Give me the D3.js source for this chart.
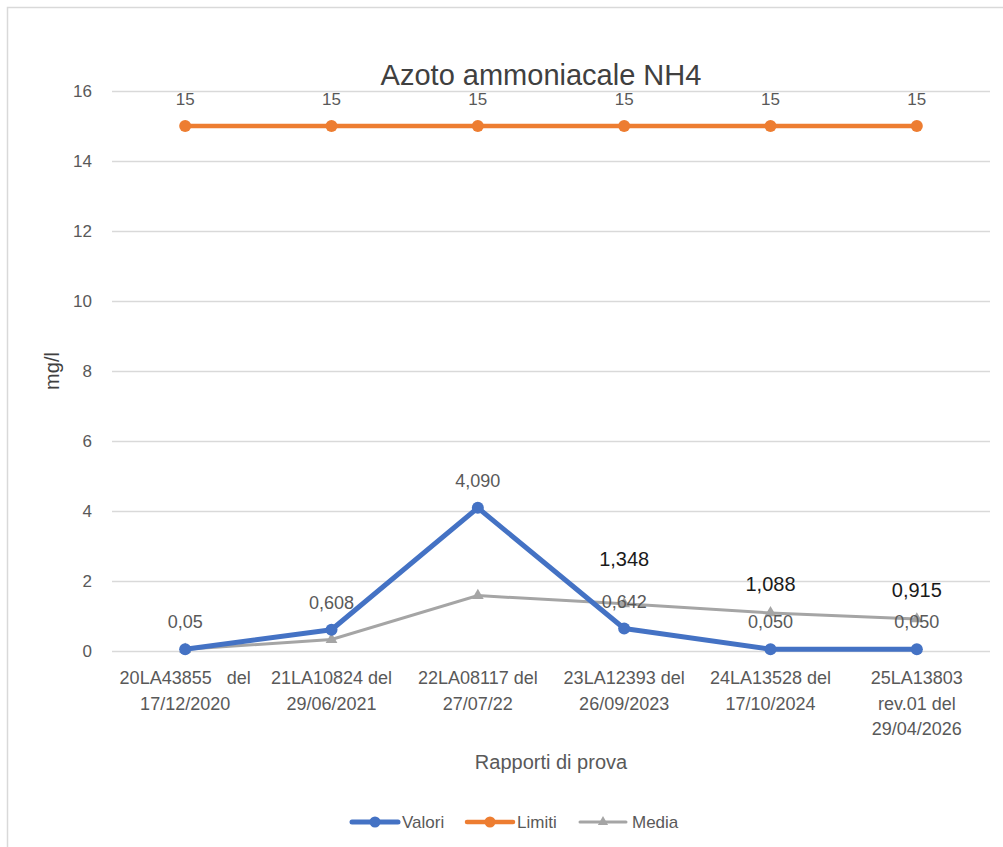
<!DOCTYPE html>
<html><head><meta charset="utf-8">
<script src="https://cdn.jsdelivr.net/npm/d3@7"></script>
<style>body{margin:0;background:#fff}svg{display:block}</style>
</head><body>
<script>
const categories = [
  ["20LA43855   del","17/12/2020"],
  ["21LA10824 del","29/06/2021"],
  ["22LA08117 del","27/07/22"],
  ["23LA12393 del","26/09/2023"],
  ["24LA13528 del","17/10/2024"],
  ["25LA13803","rev.01 del","29/04/2026"]
];
const valori = [0.05, 0.608, 4.09, 0.642, 0.05, 0.05];
const valoriLabels = ["0,05","0,608","4,090","0,642","0,050","0,050"];
const limiti = [15, 15, 15, 15, 15, 15];
const limitiLabels = ["15","15","15","15","15","15"];
const media = [0.05, 0.329, 1.583, 1.348, 1.088, 0.915];
const mediaLabels = [null, null, null, "1,348", "1,088", "0,915"];
const yTicks = [0, 2, 4, 6, 8, 10, 12, 14, 16];

const W = 1003, H = 847;
const font = "'Liberation Sans', Arial, sans-serif";
const svg = d3.select("body").append("svg").attr("width", W).attr("height", H)
  .style("font-family", font);

// outer frame
svg.append("rect").attr("x", 7.5).attr("y", 7.5).attr("width", W).attr("height", H)
  .attr("fill", "none").attr("stroke", "#d9d9d9").attr("stroke-width", 1.5);

const m = {left: 112, right: 990, top: 91, bottom: 651};
const x = d3.scaleBand().domain(d3.range(categories.length)).range([m.left, m.right]);
const cx = i => x(i) + x.bandwidth() / 2;
const y = d3.scaleLinear().domain([0, 16]).range([m.bottom, m.top]);

// gridlines
const yAxis = d3.axisLeft(y).tickValues(yTicks).tickSize(-(m.right - m.left)).tickPadding(20).tickFormat(d3.format("d"));
const gy = svg.append("g").attr("transform", `translate(${m.left},0)`).call(yAxis);
gy.select(".domain").remove();
gy.selectAll(".tick line").attr("stroke", "#d9d9d9").attr("stroke-width", 1.3);
gy.selectAll(".tick text").attr("fill", "#595959").style("font-size", "17px").style("font-family", font);

// x labels
const xAxis = d3.axisBottom(x).tickSize(0).tickFormat(() => "");
const gx = svg.append("g").attr("transform", `translate(0,${m.bottom})`).call(xAxis);
gx.select(".domain").remove();
gx.selectAll(".tick").each(function(d) {
  const t = d3.select(this).select("text").attr("fill", "#595959")
    .style("font-size", "18px").style("font-family", font).attr("y", 0).attr("dy", null);
  categories[d].forEach((line, k) => {
    t.append("tspan").attr("x", 0).attr("y", 33 + k * 25.5).style("white-space", "pre").text(line);
  });
});

// title
svg.append("text").attr("x", 541).attr("y", 85).attr("text-anchor", "middle")
  .attr("fill", "#404040").style("font-size", "29px").text("Azoto ammoniacale NH4");
// y title
svg.append("text").attr("transform", "translate(59,371) rotate(-90)").attr("text-anchor", "middle")
  .attr("fill", "#404040").style("font-size", "20px").text("mg/l");
// x title
svg.append("text").attr("x", 551).attr("y", 769).attr("text-anchor", "middle")
  .attr("fill", "#595959").style("font-size", "20px").text("Rapporti di prova");

const line = d3.line().x((d, i) => cx(i)).y(d => y(d));
const tri = d3.symbol().type(d3.symbolTriangle).size(60);

// Media
svg.append("path").datum(media).attr("d", line).attr("fill", "none")
  .attr("stroke", "#a5a5a5").attr("stroke-width", 3);
svg.selectAll(".mtri").data(media).join("path")
  .attr("transform", (d, i) => `translate(${cx(i)},${y(d)})`).attr("d", tri).attr("fill", "#a5a5a5");

// Limiti
svg.append("path").datum(limiti).attr("d", line).attr("fill", "none")
  .attr("stroke", "#ed7d31").attr("stroke-width", 4.5);
svg.selectAll(".lpt").data(limiti).join("circle")
  .attr("cx", (d, i) => cx(i)).attr("cy", d => y(d)).attr("r", 6).attr("fill", "#ed7d31");

// Valori
svg.append("path").datum(valori).attr("d", line).attr("fill", "none")
  .attr("stroke", "#4472c4").attr("stroke-width", 5).attr("stroke-linejoin", "round");
svg.selectAll(".vpt").data(valori).join("circle")
  .attr("cx", (d, i) => cx(i)).attr("cy", d => y(d)).attr("r", 6).attr("fill", "#4472c4");

// labels
svg.selectAll(".vlab").data(valori).join("text")
  .attr("x", (d, i) => cx(i)).attr("y", d => y(d) - 21).attr("text-anchor", "middle")
  .attr("fill", "#595959").style("font-size", "18px").text((d, i) => valoriLabels[i]);
svg.selectAll(".llab").data(limiti).join("text")
  .attr("x", (d, i) => cx(i)).attr("y", d => y(d) - 21).attr("text-anchor", "middle")
  .attr("fill", "#595959").style("font-size", "17px").text((d, i) => limitiLabels[i]);
const mediaDy = [0, 0, 0, -38, -22, -22];
svg.selectAll(".mlab").data(media).join("text")
  .attr("x", (d, i) => cx(i)).attr("y", (d, i) => y(d) + mediaDy[i]).attr("text-anchor", "middle")
  .attr("fill", "#1a1a1a").style("font-size", "20px").text((d, i) => mediaLabels[i] || "");

// legend
const legend = [
  {name: "Valori", color: "#4472c4", w: 5, mk: "circle", x: 352},
  {name: "Limiti", color: "#ed7d31", w: 4.5, mk: "circle", x: 467},
  {name: "Media", color: "#a5a5a5", w: 3, mk: "tri", x: 580}
];
const lg = svg.append("g").selectAll("g").data(legend).join("g")
  .attr("transform", d => `translate(${d.x},822)`);
lg.append("line").attr("x1", 0).attr("x2", 46).attr("stroke", d => d.color).attr("stroke-width", d => d.w)
  .attr("stroke-linecap", "round");
lg.each(function(d) {
  const g = d3.select(this);
  if (d.mk === "circle") g.append("circle").attr("cx", 23).attr("r", 5.5).attr("fill", d.color);
  else g.append("path").attr("transform", "translate(23,0)").attr("d", d3.symbol().type(d3.symbolTriangle).size(45)).attr("fill", d.color);
});
lg.append("text").attr("x", d => d.name === "Media" ? 52 : 50).attr("y", 6).attr("fill", "#595959")
  .style("font-size", "17px").text(d => d.name);
</script>
</body></html>
